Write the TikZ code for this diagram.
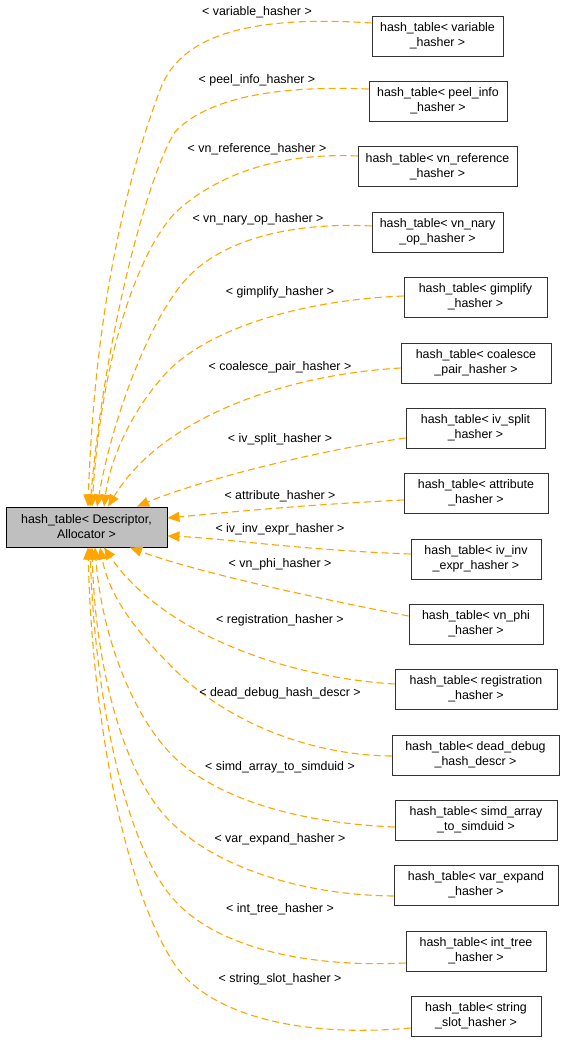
\documentclass[tikz,border=0pt]{standalone}
\usepackage{fontspec}
\setmainfont{Liberation Sans}
\usetikzlibrary{arrows.meta}
\definecolor{kante}{HTML}{FFA500}
\definecolor{basis}{HTML}{BFBFBF}

\begin{document}
\begin{tikzpicture}
		[
		x=1pt, y=-1pt, font=\fontsize{12.4}{15}\selectfont,
		>={Triangle[length=12pt,width=10pt]},
		%Voreinstellung fuer Klassen und Kanten
		klasse/.style={draw=black!80, line width=0.9pt, fill=white, align=center, minimum height=40, inner xsep=1pt, inner ysep=0pt},
		kante/.style={->, draw=kante, line width=1.1pt, dash pattern=on 7pt off 4pt},
		etikett/.style={inner sep=0pt}
		]
		
		%Rahmen
		\useasboundingbox (0,0) rectangle (568,1041);
		
		%Basisklasse
		\node[klasse, fill=basis, draw=black, minimum width=161] (basis) at (86.5,527) {hash\_table< Descriptor,\\Allocator >};
		
		%Abgeleitete Klassen
		\node[klasse, minimum width=131] (v1) at (437.5,36) {hash\_table< variable\\\_hasher >};
		\node[klasse, minimum width=138] (v2) at (438,101) {hash\_table< peel\_info\\\_hasher >};
		\node[klasse, minimum width=159] (v3) at (437.5,166.5) {hash\_table< vn\_reference\\\_hasher >};
		\node[klasse, minimum width=131] (v4) at (437.5,232) {hash\_table< vn\_nary\\\_op\_hasher >};
		\node[klasse, minimum width=143] (v5) at (475.5,297) {hash\_table< gimplify\\\_hasher >};
		\node[klasse, minimum width=150] (v6) at (476,363) {hash\_table< coalesce\\\_pair\_hasher >};
		\node[klasse, minimum width=139] (v7) at (475.5,428) {hash\_table< iv\_split\\\_hasher >};
		\node[klasse, minimum width=144] (v8) at (476,493) {hash\_table< attribute\\\_hasher >};
		\node[klasse, minimum width=130] (v9) at (476,559) {hash\_table< iv\_inv\\\_expr\_hasher >};
		\node[klasse, minimum width=134] (v10) at (476,624) {hash\_table< vn\_phi\\\_hasher >};
		\node[klasse, minimum width=162] (v11) at (476,689) {hash\_table< registration\\\_hasher >};
		\node[klasse, minimum width=167] (v12) at (475.5,755) {hash\_table< dead\_debug\\\_hash\_descr >};
		\node[klasse, minimum width=162] (v13) at (476,820) {hash\_table< simd\_array\\\_to\_simduid >};
		\node[klasse, minimum width=164] (v14) at (476,885) {hash\_table< var\_expand\\\_hasher >};
		\node[klasse, minimum width=140] (v15) at (476,951) {hash\_table< int\_tree\\\_hasher >};
		\node[klasse, minimum width=130] (v16) at (476,1016) {hash\_table< string\\\_slot\_hasher >};
		
		%Kanten nach oben
		\draw[kante] ([yshift=13pt]v1.west) .. controls (250,15) and (180,35) .. (160,90) .. controls (130,170) and (95,300) .. ([xshift=1.5pt]basis.north);
		\draw[kante] ([yshift=12pt]v2.west) .. controls (270,85) and (205,100) .. (175,132) .. controls (150,170) and (105,330) .. ([xshift=3.5pt]basis.north);
		\draw[kante] ([yshift=10.5pt]v3.west) .. controls (270,152) and (210,180) .. (175,213) .. controls (140,250) and (102,350) .. ([xshift=5.5pt]basis.north);
		\draw[kante] ([yshift=6pt]v4.west) .. controls (290,222) and (225,240) .. (190,275) .. controls (150,315) and (112,420) .. ([xshift=10.5pt]basis.north);
		\draw[kante] ([yshift=1pt]v5.west) .. controls (300,300) and (200,330) .. (160,380) .. controls (130,415) and (110,460) .. ([xshift=17.5pt]basis.north);
		\draw[kante] ([yshift=-5pt]v6.west) .. controls (280,375) and (160,420) .. ([xshift=21.5pt]basis.north);
		\draw[kante] ([yshift=-10pt]v7.west) .. controls (320,450) and (200,480) .. ([xshift=50.5pt]basis.north);
		
		%Kanten zur Seite
		\draw[kante] ([yshift=-7pt]v8.west) .. controls (300,505) and (220,513) .. ([yshift=9pt]basis.east);
		\draw[kante] ([yshift=5pt]v9.west) .. controls (300,550) and (220,538) .. ([yshift=-9pt]basis.east);
		
		%Kanten nach unten
		\draw[kante] ([yshift=8pt]v10.west) .. controls (300,595) and (190,570) .. ([xshift=43.5pt]basis.south);
		\draw[kante] ([yshift=5pt]v11.west) .. controls (280,677) and (160,630) .. ([xshift=17.5pt]basis.south);
		\draw[kante] ([yshift=-1pt]v12.west) .. controls (300,755) and (220,715) .. (175,670) .. controls (140,635) and (110,600) .. ([xshift=13.5pt]basis.south);
		\draw[kante] ([yshift=-7pt]v13.west) .. controls (300,823) and (220,800) .. (175,758) .. controls (135,720) and (102,640) .. ([xshift=8.5pt]basis.south);
		\draw[kante] ([yshift=-11pt]v14.west) .. controls (290,895) and (200,860) .. (160,810) .. controls (120,760) and (95,660) .. ([xshift=5.5pt]basis.south);
		\draw[kante] ([yshift=-12pt]v15.west) .. controls (300,968) and (210,945) .. (170,895) .. controls (125,840) and (95,700) .. ([xshift=3.5pt]basis.south);
		\draw[kante] ([yshift=-12pt]v16.west) .. controls (300,1038) and (210,1015) .. (175,965) .. controls (125,890) and (92,720) .. ([xshift=1.5pt]basis.south);
		
		%Beschriftungen
		\node[etikett] (l1) at (257,12) {< variable\_hasher >};
		\node[etikett] (l2) at (257,80) {< peel\_info\_hasher >};
		\node[etikett] (l3) at (257,149) {< vn\_reference\_hasher >};
		\node[etikett] (l4) at (258,219) {< vn\_nary\_op\_hasher >};
		\node[etikett] (l5) at (280,292) {< gimplify\_hasher >};
		\node[etikett] (l6) at (280,367) {< coalesce\_pair\_hasher >};
		\node[etikett] (l7) at (280,439) {< iv\_split\_hasher >};
		\node[etikett] (l8) at (280,496) {< attribute\_hasher >};
		\node[etikett] (l9) at (280,529) {< iv\_inv\_expr\_hasher >};
		\node[etikett] (l10) at (280,564) {< vn\_phi\_hasher >};
		\node[etikett] (l11) at (280,620) {< registration\_hasher >};
		\node[etikett] (l12) at (280,693) {< dead\_debug\_hash\_descr >};
		\node[etikett] (l13) at (280,767) {< simd\_array\_to\_simduid >};
		\node[etikett] (l14) at (280,839) {< var\_expand\_hasher >};
		\node[etikett] (l15) at (280,909) {< int\_tree\_hasher >};
		\node[etikett] (l16) at (280,979) {< string\_slot\_hasher >};
	\end{tikzpicture}
\end{document}
